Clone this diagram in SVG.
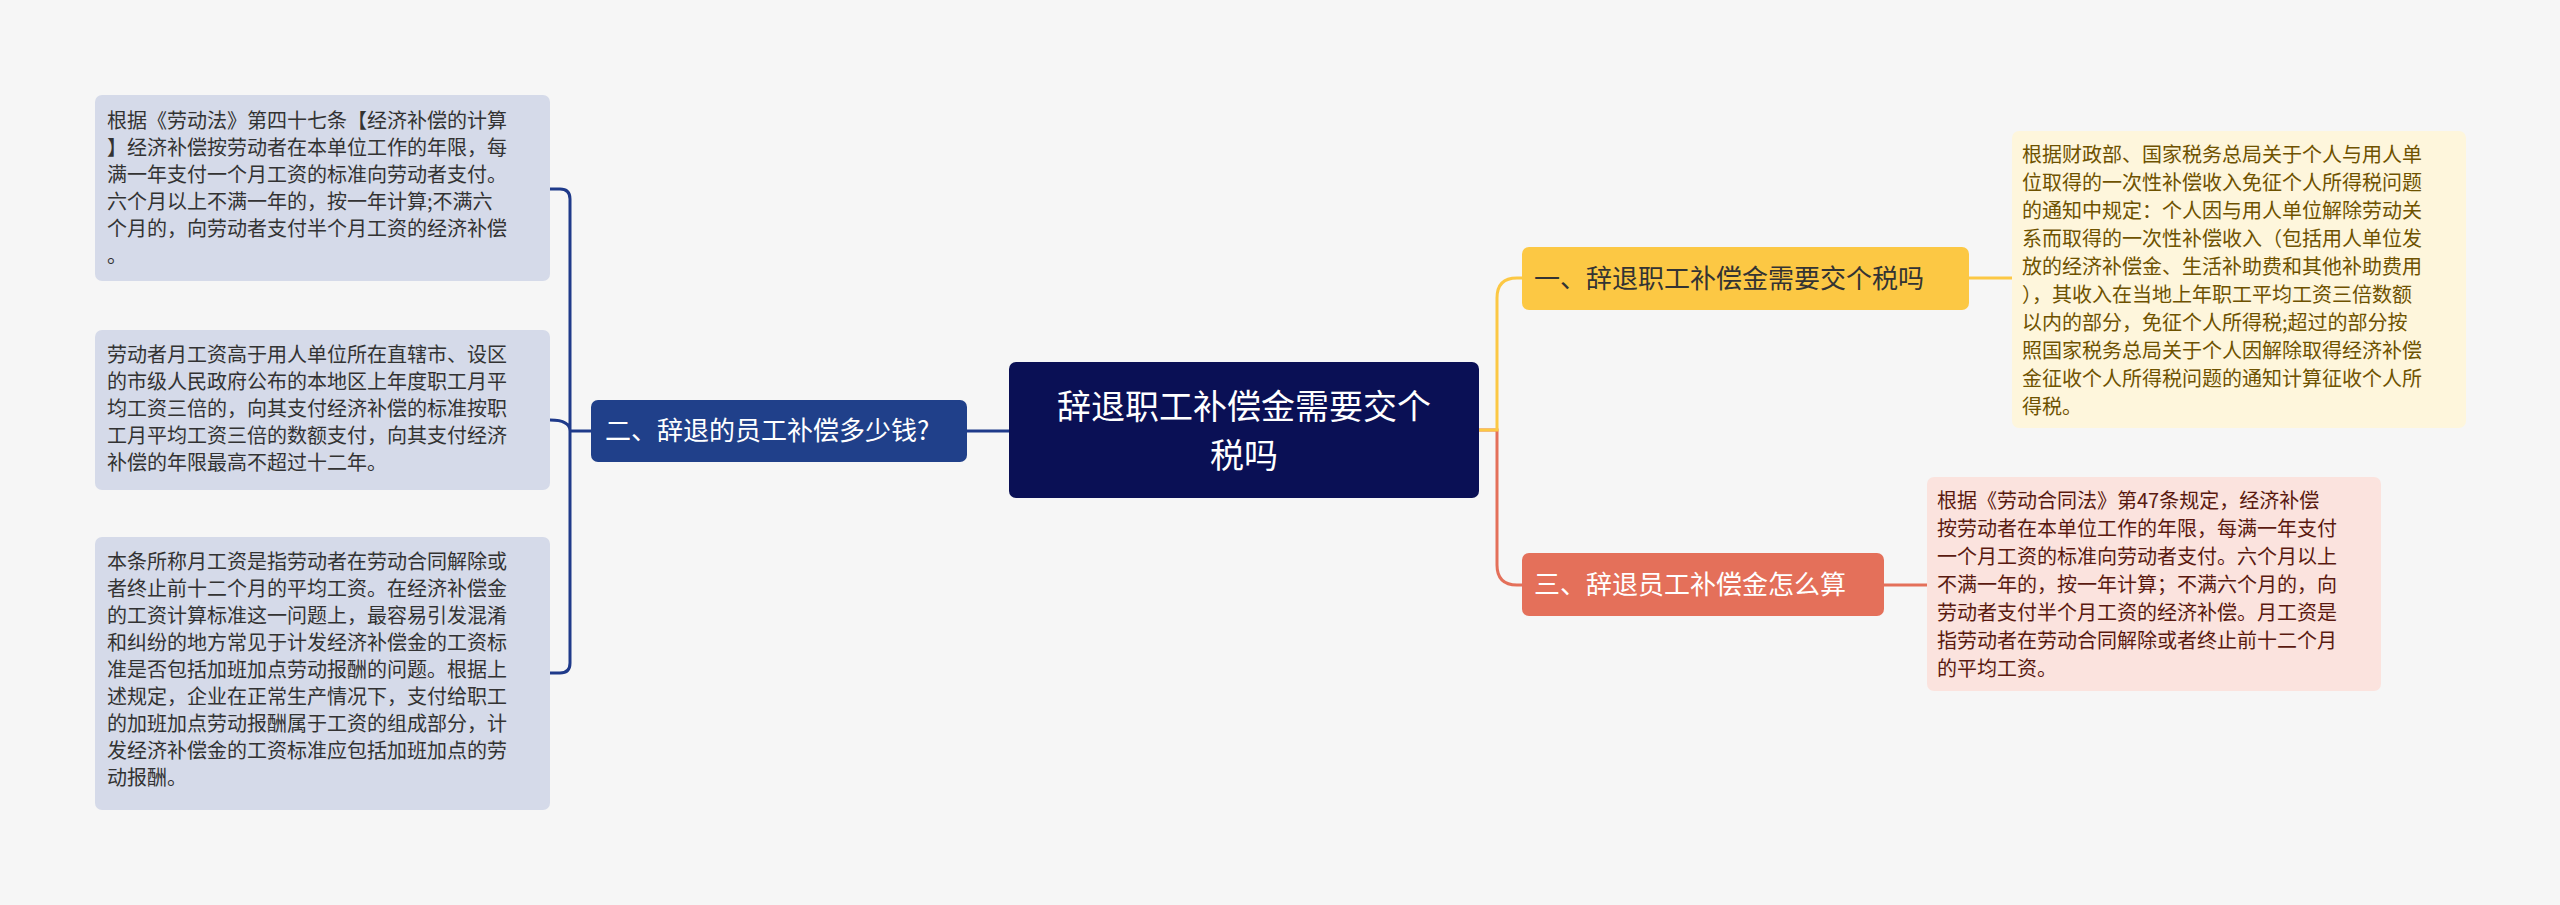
<svg xmlns="http://www.w3.org/2000/svg" width="2560" height="905" viewBox="0 0 2560 905">
<style>
.t{font-family:"Noto Sans CJK SC","Noto Sans",sans-serif;font-size:20px}
.big{font-size:34px}.mid{font-size:26px}
.lb{fill:#d5dae9}.lt{fill:#333}
.c{fill:none;stroke-width:3}
</style>
<rect width="2560" height="905" fill="#f6f6f6"/>
<g id="connectors">
<path class="c" stroke="#e4705a" d="M1479 430 H1497 V565 Q1497 585 1517 585 H1522"/>
<path class="c" stroke="#fcc844" d="M1479 430 H1497 V298 Q1497 278 1517 278 H1522"/>
<path class="c" stroke="#fcc844" d="M1969 278 H2012"/>
<path class="c" stroke="#e4705a" d="M1884 585 H1927"/>
<path class="c" stroke="#1f3a8a" d="M1009 431 H967"/>
<path class="c" stroke="#1f3a8a" d="M591 431 H570 M550 189 H560 Q570 189 570 199 V663 Q570 673 560 673 H550 M550 420 Q570 420 570 431"/>
</g>
<g id="center"><rect x="1009" y="362" width="470" height="136" rx="7" fill="#0a1055"/>
<text class="t big" fill="#fff" text-anchor="middle"><tspan x="1244" y="419">辞退职工补偿金需要交个</tspan><tspan x="1244" y="468">税吗</tspan></text></g>
<g id="n2"><rect x="591" y="400" width="376" height="62" rx="7" fill="#20408a"/>
<text class="t mid" fill="#fff" x="605" y="440">二、辞退的员工补偿多少钱?</text></g>
<g id="n1"><rect x="1522" y="247" width="447" height="63" rx="7" fill="#fcc844"/>
<text class="t mid" fill="#333" x="1534" y="288">一、辞退职工补偿金需要交个税吗</text></g>
<g id="n3"><rect x="1522" y="553" width="362" height="63" rx="7" fill="#e4705a"/>
<text class="t mid" fill="#fff" x="1534" y="594">三、辞退员工补偿金怎么算</text></g>
<g id="l1"><rect class="lb" x="95" y="95" width="455" height="186" rx="7"/>
<text class="t lt"><tspan x="107" y="128">根据《劳动法》第四十七条【经济补偿的计算</tspan><tspan x="107" y="155">】经济补偿按劳动者在本单位工作的年限，每</tspan><tspan x="107" y="182">满一年支付一个月工资的标准向劳动者支付。</tspan><tspan x="107" y="209">六个月以上不满一年的，按一年计算;不满六</tspan><tspan x="107" y="236">个月的，向劳动者支付半个月工资的经济补偿</tspan><tspan x="107" y="263">。</tspan></text></g>
<g id="l2"><rect class="lb" x="95" y="330" width="455" height="160" rx="7"/>
<text class="t lt"><tspan x="107" y="362">劳动者月工资高于用人单位所在直辖市、设区</tspan><tspan x="107" y="389">的市级人民政府公布的本地区上年度职工月平</tspan><tspan x="107" y="416">均工资三倍的，向其支付经济补偿的标准按职</tspan><tspan x="107" y="443">工月平均工资三倍的数额支付，向其支付经济</tspan><tspan x="107" y="470">补偿的年限最高不超过十二年。</tspan></text></g>
<g id="l3"><rect class="lb" x="95" y="537" width="455" height="273" rx="7"/>
<text class="t lt"><tspan x="107" y="569">本条所称月工资是指劳动者在劳动合同解除或</tspan><tspan x="107" y="596">者终止前十二个月的平均工资。在经济补偿金</tspan><tspan x="107" y="623">的工资计算标准这一问题上，最容易引发混淆</tspan><tspan x="107" y="650">和纠纷的地方常见于计发经济补偿金的工资标</tspan><tspan x="107" y="677">准是否包括加班加点劳动报酬的问题。根据上</tspan><tspan x="107" y="704">述规定，企业在正常生产情况下，支付给职工</tspan><tspan x="107" y="731">的加班加点劳动报酬属于工资的组成部分，计</tspan><tspan x="107" y="758">发经济补偿金的工资标准应包括加班加点的劳</tspan><tspan x="107" y="785">动报酬。</tspan></text></g>
<g id="y1"><rect x="2012" y="131" width="454" height="297" rx="7" fill="#fef6dc"/>
<text class="t" fill="#6e5200"><tspan x="2022" y="162">根据财政部、国家税务总局关于个人与用人单</tspan><tspan x="2022" y="190">位取得的一次性补偿收入免征个人所得税问题</tspan><tspan x="2022" y="218">的通知中规定：个人因与用人单位解除劳动关</tspan><tspan x="2022" y="246">系而取得的一次性补偿收入（包括用人单位发</tspan><tspan x="2022" y="274">放的经济补偿金、生活补助费和其他补助费用</tspan><tspan x="2022" y="302">），其收入在当地上年职工平均工资三倍数额</tspan><tspan x="2022" y="330">以内的部分，免征个人所得税;超过的部分按</tspan><tspan x="2022" y="358">照国家税务总局关于个人因解除取得经济补偿</tspan><tspan x="2022" y="386">金征收个人所得税问题的通知计算征收个人所</tspan><tspan x="2022" y="414">得税。</tspan></text></g>
<g id="p1"><rect x="1927" y="477" width="454" height="214" rx="7" fill="#fbe3de"/>
<text class="t" fill="#5a1a10"><tspan x="1937" y="508">根据《劳动合同法》第47条规定，经济补偿</tspan><tspan x="1937" y="536">按劳动者在本单位工作的年限，每满一年支付</tspan><tspan x="1937" y="564">一个月工资的标准向劳动者支付。六个月以上</tspan><tspan x="1937" y="592">不满一年的，按一年计算；不满六个月的，向</tspan><tspan x="1937" y="620">劳动者支付半个月工资的经济补偿。月工资是</tspan><tspan x="1937" y="648">指劳动者在劳动合同解除或者终止前十二个月</tspan><tspan x="1937" y="676">的平均工资。</tspan></text></g>
</svg>
